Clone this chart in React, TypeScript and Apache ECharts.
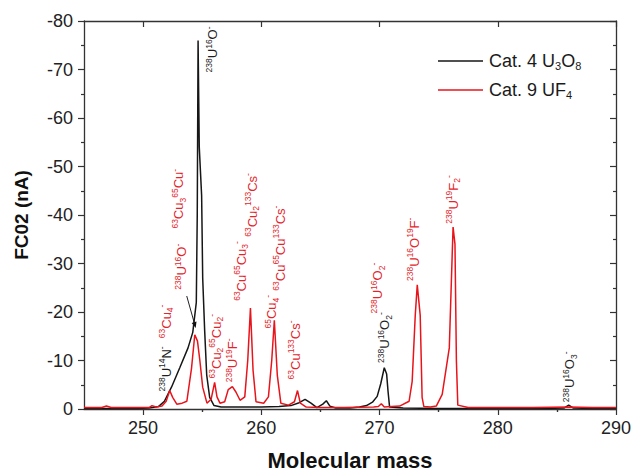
import React, { useEffect, useRef } from 'react';
import * as echarts from 'echarts';

// ---- data ----
const seriesNames = ['Cat. 4 U3O8', 'Cat. 9 UF4'];
const legendRichNames = ['Cat. 4 U{sub|3}O{sub|8}', 'Cat. 9 UF{sub|4}'];

const blackMass = [245, 246.5, 248, 249.5, 250.5, 251.3, 251.8, 252.4, 253.1, 253.8, 254.2, 254.5, 254.58, 254.65, 254.75, 254.95, 255.04, 255.21, 255.38, 255.63, 256.0, 256.6, 258, 260, 261.5, 262.5, 263.2, 263.7, 264.2, 264.7, 265.2, 265.5, 265.8, 266.3, 267.5, 268.3, 268.9, 269.4, 269.8, 270.1, 270.4, 270.6, 270.72, 270.85, 272, 275, 280, 284, 285.6, 286.0, 286.4, 288, 290];
const blackFc = [-0.1, -0.1, -0.1, -0.1, -0.2, -0.5, -1.6, -4.5, -8.5, -12.6, -15.8, -22, -40, -76, -54, -44, -27, -16, -7, -2.4, -0.7, -0.4, -0.4, -0.4, -0.5, -0.7, -1.3, -2.0, -1.2, -0.3, -1.0, -1.7, -0.6, -0.2, -0.2, -0.4, -0.7, -1.4, -2.6, -5.2, -8.5, -7.2, -3.6, -0.4, -0.2, -0.1, -0.1, -0.1, -0.2, -0.8, -0.2, -0.1, -0.1];

const redMass = [245, 246.5, 246.9, 247.3, 249, 250.5, 250.75, 251.1, 251.6, 251.95, 252.25, 252.5, 252.85, 253.3, 253.7, 254.1, 254.37, 254.6, 254.8, 255.04, 255.4, 255.75, 256.05, 256.25, 256.5, 256.9, 257.2, 257.55, 257.85, 258.2, 258.6, 258.85, 259.08, 259.3, 259.55, 260.2, 260.6, 260.88, 261.1, 261.35, 261.65, 262.3, 262.8, 263.06, 263.3, 263.8, 265, 267, 269.5, 269.9, 270.15, 270.4, 271.7, 272.5, 272.76, 273.02, 273.19, 273.44, 273.6, 273.75, 274.3, 274.8, 275.3, 275.9, 276.14, 276.22, 276.38, 276.5, 276.62, 277.5, 280, 283, 286, 288, 290];
const redFc = [-0.3, -0.3, -0.6, -0.3, -0.3, -0.3, -0.7, -0.4, -0.6, -1.6, -3.8, -2.4, -1.0, -1.2, -1.6, -8.5, -15.3, -14, -10, -4.5, -1.2, -2, -5.5, -2.5, -1.2, -1.5, -4, -4.6, -3.5, -1.8, -2.5, -10, -20.8, -8, -1.5, -1.2, -2.5, -10, -18.3, -7, -1.2, -0.8, -1.5, -3.8, -1.2, -0.4, -0.3, -0.3, -0.4, -0.5, -1.1, -0.4, -0.6, -1.6, -5.7, -19.3, -25.6, -19.3, -2.4, -0.5, -0.4, -0.6, -3, -12.6, -31.4, -37.5, -34, -10, -0.8, -0.3, -0.3, -0.3, -0.4, -0.3, -0.3];

const xRange = [245, 290];
const yRange = [-80, 0];
const yStep = 10;
const xMajorTicks = [250, 260, 270, 280, 290];
const xMinorTicks = [255, 265, 275, 285];

// peak annotations: rich text, anchor (mass, FC02) at the start of the rotated text, series index for colour
const peakLabels = [
  { text: '{p|238}U{p|16}O{p|-}', mass: 255.89, fc: -69.4, s: 0 },
  { text: '{p|238}U{p|14}N{p|-}', mass: 251.95, fc: -3.6, s: 0 },
  { text: '{p|63}Cu{b|4}{p|-}', mass: 251.95, fc: -14.6, s: 1 },
  { text: '{p|238}U{p|16}O{p|-}', mass: 253.27, fc: -24.6, s: 1 },
  { text: '{p|63}Cu{b|3}{p|65}Cu{p|-}', mass: 253.02, fc: -37.2, s: 1 },
  { text: '{p|63}Cu{b|2}{p|65}Cu{b|2}{p|-}', mass: 256.2, fc: -6.3, s: 1 },
  { text: '{p|238}U{p|19}F{p|-}', mass: 257.6, fc: -5.5, s: 1 },
  { text: '{p|63}Cu{p|65}Cu{b|3}{p|-}', mass: 258.3, fc: -22.3, s: 1 },
  { text: '{p|63}Cu{b|2}{p|133}Cs{p|-}', mass: 259.25, fc: -35.5, s: 1 },
  { text: '{p|65}Cu{b|4}{p|-}', mass: 260.9, fc: -16.6, s: 1 },
  { text: '{p|63}Cu{p|65}Cu{p|133}Cs{p|-}', mass: 261.6, fc: -24.4, s: 1 },
  { text: '{p|63}Cu{p|133}Cs{p|-}', mass: 262.85, fc: -6.1, s: 1 },
  { text: '{p|238}U{p|16}O{b|2}{p|-}', mass: 270.45, fc: -9.5, s: 0 },
  { text: '{p|238}U{p|16}O{b|2}{p|-}', mass: 269.85, fc: -19.7, s: 1 },
  { text: '{p|238}U{p|16}O{p|19}F{p|-}', mass: 272.95, fc: -26.4, s: 1 },
  { text: '{p|238}U{p|19}F{b|2}{p|-}', mass: 276.25, fc: -38.2, s: 1 },
  { text: '{p|238}U{p|16}O{b|3}{p|-}', mass: 286.1, fc: -1.4, s: 0 },
];
// arrow from the red 238U16O- label to the peak
const arrowFrom = [253.69, -23.3];
const arrowTo = [254.45, -16.7];

const FONT = "'Liberation Sans', Arial, sans-serif";
const COLORS = ['#161616', '#e8141b'];
const LABEL_COLORS = ['#1e1e1e', '#e3252b'];
const AXIS_COLOR = '#333333';

function zip(a: number[], b: number[]) {
  return a.map((v, i) => [v, b[i]]);
}

export default function App() {
  const ref = useRef<HTMLDivElement>(null);
  useEffect(() => {
    const chart = echarts.init(ref.current!, null, { renderer: 'svg' });
    const axisLine = { show: true, onZero: false, lineStyle: { color: AXIS_COLOR, width: 1.3 } };
    const tickStyle = { color: AXIS_COLOR, width: 1.2 };
    const option: any = {
      animation: false,
      backgroundColor: '#ffffff',
      grid: { left: 84, right: 16, top: 21, bottom: 61, containLabel: false },
      legend: {
        orient: 'vertical',
        left: 438,
        top: 51,
        padding: 0,
        icon: 'rect',
        itemWidth: 45,
        itemHeight: 1.6,
        itemGap: 9,
        data: seriesNames,
        formatter: (name: string) => legendRichNames[seriesNames.indexOf(name)],
        textStyle: {
          fontFamily: FONT,
          fontSize: 18,
          lineHeight: 20,
          color: '#1a1a1a',
          padding: [0, 0, 0, 1],
          rich: { sub: { fontFamily: FONT, fontSize: 11, lineHeight: 12, verticalAlign: 'bottom', color: '#1a1a1a' } },
        },
      },
      xAxis: [
        {
          type: 'value', min: xRange[0], max: xRange[1], position: 'bottom',
          name: 'Molecular mass', nameLocation: 'middle', nameGap: 40,
          nameTextStyle: { fontFamily: FONT, fontSize: 22, fontWeight: 'bold', color: '#111' },
          axisLine,
          axisTick: { show: true, inside: false, length: 6, customValues: xMajorTicks, lineStyle: tickStyle },
          axisLabel: { customValues: xMajorTicks, fontFamily: FONT, fontSize: 18, color: '#222', margin: 10 },
          splitLine: { show: false },
        },
        {
          type: 'value', min: xRange[0], max: xRange[1], position: 'bottom',
          axisLine: { show: false },
          axisTick: { show: true, inside: false, length: 3, customValues: xMinorTicks, lineStyle: tickStyle },
          axisLabel: { show: false },
          splitLine: { show: false },
        },
        {
          type: 'value', min: xRange[0], max: xRange[1], position: 'top',
          axisLine,
          axisTick: { show: true, inside: true, length: 6, customValues: xMajorTicks, lineStyle: tickStyle },
          axisLabel: { show: false },
          splitLine: { show: false },
        },
        {
          type: 'value', min: xRange[0], max: xRange[1], position: 'top',
          axisLine: { show: false },
          axisTick: { show: true, inside: true, length: 3, customValues: xMinorTicks, lineStyle: tickStyle },
          axisLabel: { show: false },
          splitLine: { show: false },
        },
      ],
      yAxis: [
        {
          type: 'value', min: yRange[0], max: yRange[1], interval: yStep, inverse: true, position: 'left',
          name: 'FC02 (nA)', nameLocation: 'middle', nameGap: 53, nameRotate: 90,
          nameTextStyle: { fontFamily: FONT, fontSize: 19, fontWeight: 'bold', color: '#111' },
          axisLine,
          axisTick: { show: true, inside: false, length: 6, lineStyle: tickStyle },
          minorTick: { show: true, splitNumber: 2, length: 3, lineStyle: tickStyle },
          axisLabel: { fontFamily: FONT, fontSize: 18, color: '#222', margin: 11 },
          splitLine: { show: false },
          minorSplitLine: { show: false },
        },
        {
          type: 'value', min: yRange[0], max: yRange[1], interval: yStep, inverse: true, position: 'right',
          axisLine,
          axisTick: { show: true, inside: true, length: 6, lineStyle: tickStyle },
          minorTick: { show: true, splitNumber: 2, length: 3, lineStyle: tickStyle },
          axisLabel: { show: false },
          splitLine: { show: false },
          minorSplitLine: { show: false },
        },
      ],
      series: [
        {
          name: seriesNames[0], type: 'line', xAxisIndex: 0, yAxisIndex: 0,
          data: zip(blackMass, blackFc), symbol: 'none', smooth: false,
          lineStyle: { color: COLORS[0], width: 1.5 }, itemStyle: { color: COLORS[0] },
        },
        {
          name: seriesNames[1], type: 'line', xAxisIndex: 0, yAxisIndex: 0,
          data: zip(redMass, redFc), symbol: 'none', smooth: false,
          lineStyle: { color: COLORS[1], width: 1.5 }, itemStyle: { color: COLORS[1] },
        },
      ],
    };
    chart.setOption(option);

    const graphics: any[] = [];
    peakLabels.forEach((l) => {
      const pt = chart.convertToPixel({ xAxisIndex: 0, yAxisIndex: 0 }, [l.mass, l.fc]) as number[];
      const c = LABEL_COLORS[l.s];
      graphics.push({
        type: 'text',
        x: pt[0],
        y: pt[1],
        rotation: Math.PI / 2,
        silent: true,
        style: {
          text: l.text,
          fill: c,
          fontFamily: FONT,
          fontSize: 13,
          lineHeight: 17,
          align: 'left',
          verticalAlign: 'middle',
          rich: {
            p: { fontFamily: FONT, fontSize: 8.5, lineHeight: 9, verticalAlign: 'top', fill: c },
            b: { fontFamily: FONT, fontSize: 8.5, lineHeight: 9, verticalAlign: 'bottom', fill: c },
          },
        },
      });
    });
    const a0 = chart.convertToPixel({ xAxisIndex: 0, yAxisIndex: 0 }, arrowFrom) as number[];
    const a1 = chart.convertToPixel({ xAxisIndex: 0, yAxisIndex: 0 }, arrowTo) as number[];
    const dx = a1[0] - a0[0];
    const dy = a1[1] - a0[1];
    const len = Math.sqrt(dx * dx + dy * dy);
    const ux = dx / len;
    const uy = dy / len;
    const hl = 6;
    const hw = 2.5;
    const bx = a1[0] - ux * hl;
    const by = a1[1] - uy * hl;
    graphics.push({
      type: 'line', silent: true,
      shape: { x1: a0[0], y1: a0[1], x2: bx, y2: by },
      style: { stroke: '#222', lineWidth: 1 },
    });
    graphics.push({
      type: 'polygon', silent: true,
      shape: { points: [[a1[0], a1[1]], [bx - uy * hw, by + ux * hw], [bx + uy * hw, by - ux * hw]] },
      style: { fill: '#111' },
    });
    chart.setOption({ graphic: graphics });

    return () => chart.dispose();
  }, []);
  return <div ref={ref} style={{ position: 'fixed', left: 0, top: 0, width: 634, height: 476 }} />;
}
